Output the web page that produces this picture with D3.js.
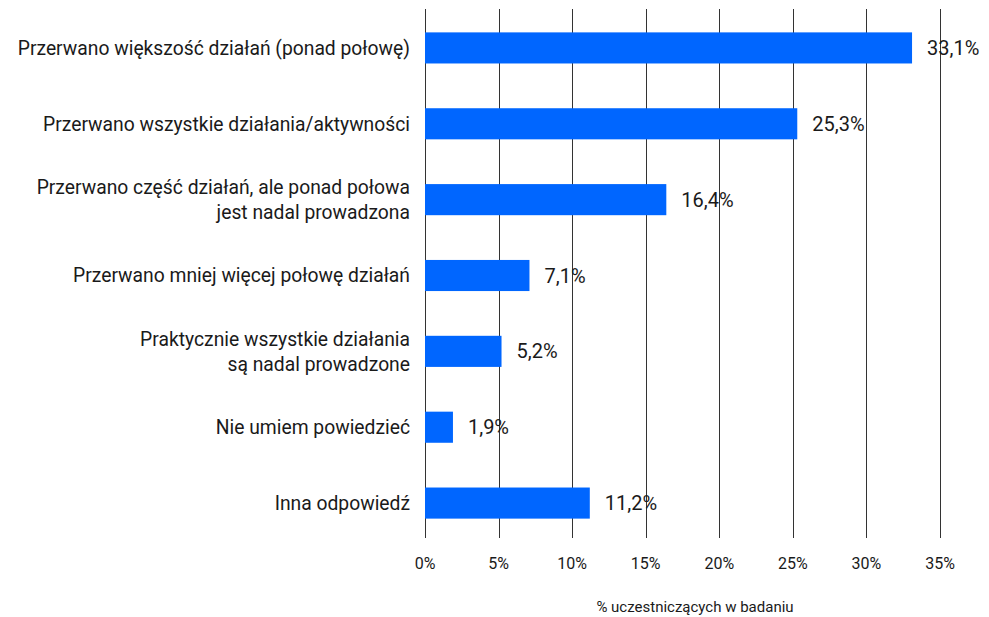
<!DOCTYPE html>
<html><head><meta charset="utf-8">
<script src="https://cdn.jsdelivr.net/npm/d3@7"></script>
<style>body{margin:0;background:#fff;} svg{display:block;} text{font-family:Roboto,"Open Sans",sans-serif;fill:#1a1a1a;}</style>
</head><body><svg id="c" width="989" height="617"></svg>
<script>
const categories = [
  ["Przerwano większość działań (ponad połowę)"],
  ["Przerwano wszystkie działania/aktywności"],
  ["Przerwano część działań, ale ponad połowa", "jest nadal prowadzona"],
  ["Przerwano mniej więcej połowę działań"],
  ["Praktycznie wszystkie działania", "są nadal prowadzone"],
  ["Nie umiem powiedzieć"],
  ["Inna odpowiedź"]
];
const values = [33.1, 25.3, 16.4, 7.1, 5.2, 1.9, 11.2];
const valueLabels = ["33,1%", "25,3%", "16,4%", "7,1%", "5,2%", "1,9%", "11,2%"];
const ticks = [0, 5, 10, 15, 20, 25, 30, 35];
const axisTitle = "% uczestniczących w badaniu";

const svg = d3.select("#c");
const x = d3.scaleLinear().domain([0, 35]).range([425, 940]);
const y = d3.scaleBand().domain(d3.range(values.length)).range([10, 541]).paddingInner(0.59).paddingOuter(0.295);

// gridlines
svg.append("g").selectAll("line").data(ticks).join("line")
  .attr("x1", d => Math.round(x(d)) + 0.5).attr("x2", d => Math.round(x(d)) + 0.5)
  .attr("y1", 9).attr("y2", 538)
  .attr("stroke", "#333").attr("stroke-width", 1);

// bars
svg.append("g").selectAll("rect").data(values).join("rect")
  .attr("x", x(0)).attr("y", (d, i) => y(i))
  .attr("width", d => x(d) - x(0)).attr("height", y.bandwidth())
  .attr("fill", "#0066FF");

// value labels
svg.append("g").selectAll("text").data(values).join("text")
  .attr("x", d => x(d) + 15).attr("y", (d, i) => y(i) + y.bandwidth() / 2)
  .attr("dy", "0.35em").attr("font-size", 20).text((d, i) => valueLabels[i]);

// category labels
const cat = svg.append("g").selectAll("text").data(categories).join("text")
  .attr("text-anchor", "end").attr("font-size", 19.3)
  .attr("transform", (d, i) => `translate(410,${y(i) + y.bandwidth() / 2})`);
cat.selectAll("tspan").data(d => d.map((t, j) => ({t, j, n: d.length}))).join("tspan")
  .attr("x", 0).attr("y", d => (d.j - (d.n - 1) / 2) * 25)
  .attr("dy", "0.35em").text(d => d.t);

// tick labels
svg.append("g").selectAll("text").data(ticks).join("text")
  .attr("x", d => x(d)).attr("y", 563).attr("dy", "0.35em")
  .attr("text-anchor", "middle").attr("font-size", 16).text(d => d + "%");

svg.append("text").attr("x", 695).attr("y", 607).attr("dy", "0.35em")
  .attr("text-anchor", "middle").attr("font-size", 15).text(axisTitle);
</script></body></html>
